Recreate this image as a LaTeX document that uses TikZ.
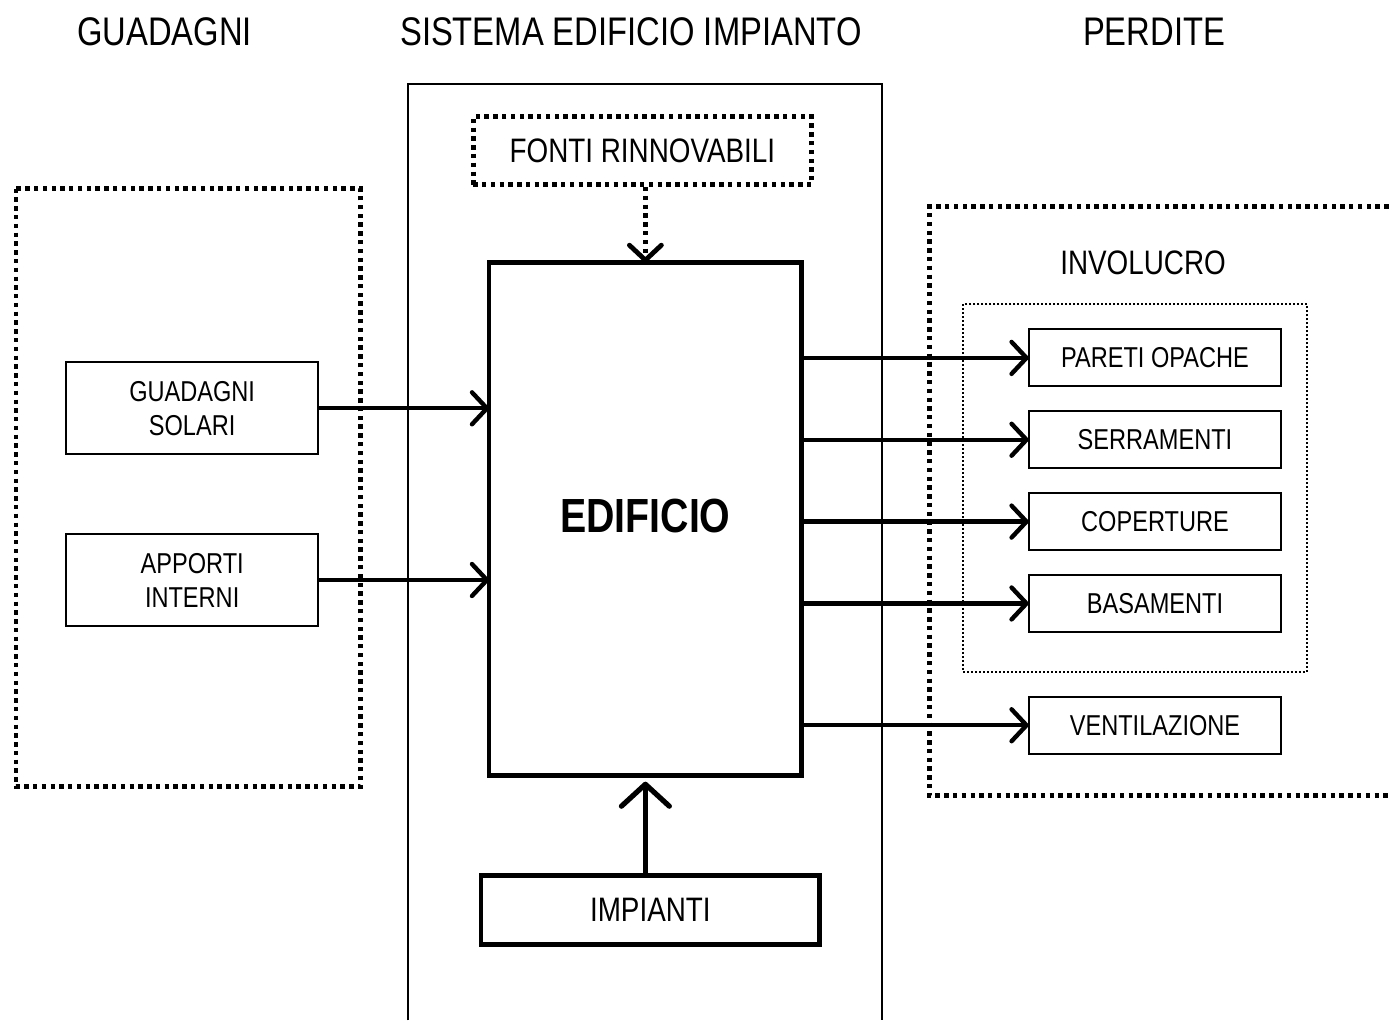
\documentclass[tikz,border=0pt]{standalone}
\usepackage{fontspec}
\setmainfont{Liberation Sans}[FakeStretch=0.82]
\usetikzlibrary{arrows.meta}

\begin{document}
\begin{tikzpicture}[x=0.5pt,y=-0.5pt,
  head/.style={font=\fontsize{20}{24}\selectfont},
  thinbox/.style={draw,line width=1pt,inner sep=0pt,outer sep=0pt,align=center,
    minimum width=126.5pt,font=\fontsize{14.4}{17}\selectfont},
  thickbox/.style={draw,line width=2.2pt,inner sep=0pt,outer sep=0pt,align=center},
  bigdots/.style={line width=2.4pt,dash pattern=on 2.2pt off 2.2pt},
  flow/.style={line width=2.2pt,-{Straight Barb[length=7.5pt,width=16pt,round]}}]
\path (0,0) rectangle (1391,1022);
% titles
\node[head] (tguad) at (165,32) {GUADAGNI};
\node[head] (tsist) at (632,32) {SISTEMA EDIFICIO IMPIANTO};
\node[head] (tperd) at (1156,32) {PERDITE};
% frames
\draw[line width=1pt] (409,1022) -- (409,84) -- (884,84) -- (884,1022);
\draw[bigdots] (16,189) rectangle (361,788);
\draw[bigdots] (1391,207) -- (931,207) -- (931,797) -- (1391,797);
\draw[line width=1pt,dash pattern=on 1pt off 1pt] (965,305) rectangle (1309,673);
\node[font=\fontsize{17}{20}\selectfont] (invol) at (1145,263) {INVOLUCRO};
% central system
\node[draw,bigdots,inner sep=0pt,minimum width=169.5pt,minimum height=34pt,
  font=\fontsize{17}{20}\selectfont] (fonti) at (643.5,151) {FONTI RINNOVABILI};
\node[thickbox,minimum width=156.5pt,minimum height=257pt,
  font=\fontsize{24}{28}\bfseries\selectfont] (edif) at (646.5,520) {\raisebox{3pt}{EDIFICIO}};
\node[thickbox,minimum width=169.5pt,minimum height=34.5pt,
  font=\fontsize{17}{20}\selectfont] (impi) at (651.5,911.5) {IMPIANTI};
% gains
\node[thinbox,minimum height=46pt] (solari) at (192.5,409) {GUADAGNI\\SOLARI};
\node[thinbox,minimum height=46pt] (interni) at (192.5,581) {APPORTI\\INTERNI};
% losses
\node[thinbox,minimum height=28.5pt] (pareti) at (1157,358.5) {PARETI OPACHE};
\node[thinbox,minimum height=28.5pt] (serr) at (1157,440.5) {SERRAMENTI};
\node[thinbox,minimum height=28.5pt] (cop) at (1157,522.5) {COPERTURE};
\node[thinbox,minimum height=28.5pt] (bas) at (1157,604.5) {BASAMENTI};
\node[thinbox,minimum height=28.5pt] (vent) at (1157,726.5) {VENTILAZIONE};
% flows
\draw[flow,line width=2.4pt,dash pattern=on 2.2pt off 2.2pt] (fonti.south -| edif.north) -- (edif.north);
\draw[line width=2.6pt,-{Straight Barb[length=11pt,width=24pt,round]}]
  (impi.north -| edif.south) -- ([yshift=-3pt]edif.south);
\draw[flow] (solari.east) -- (edif.west |- solari.east);
\draw[flow] (interni.east) -- (edif.west |- interni.east);
\foreach \n in {pareti,serr,cop,bas,vent}
  \draw[flow] (edif.east |- \n.west) -- (\n.west);
\end{tikzpicture}
\end{document}
